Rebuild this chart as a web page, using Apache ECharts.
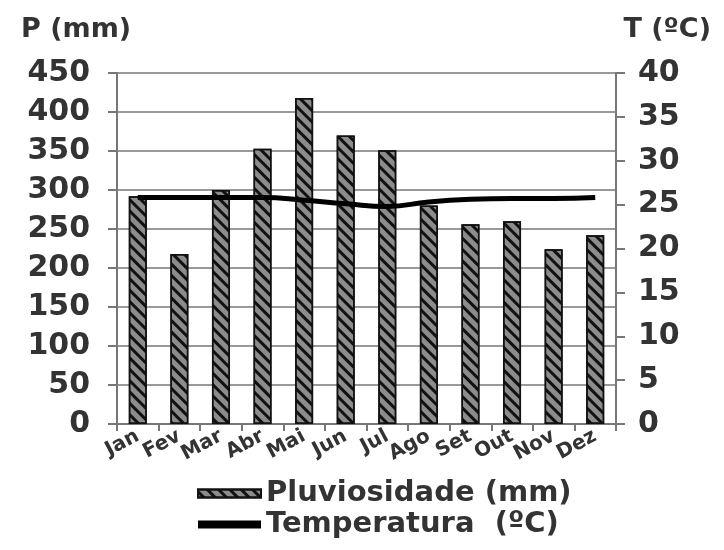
<!DOCTYPE html>
<html><head><meta charset="utf-8">
<script src="https://cdn.jsdelivr.net/npm/echarts@6/dist/echarts.min.js"></script>
<style>html,body{margin:0;padding:0;background:#fff}#c{width:724px;height:550px}</style>
</head><body><div id="c"></div>
<script>
const months = ['Jan','Fev','Mar','Abr','Mai','Jun','Jul','Ago','Set','Out','Nov','Dez'];
const rain = [292, 218, 300, 353, 418, 370, 351, 280, 256, 260, 224, 242];
const temp = [25.8, 25.8, 25.8, 25.8, 25.5, 25.1, 24.8, 25.3, 25.6, 25.7, 25.7, 25.8];
const rainTicks = {min: 0, max: 450, interval: 50};
const tempTicks = {min: 0, max: 40, interval: 5};
const font = '"DejaVu Sans", sans-serif';
const txt = '#333';
const decal = {symbol: 'rect', symbolSize: 1, dashArrayX: [[1, 0]], dashArrayY: [3, 5], rotation: Math.PI / 4, color: '#111'};

const chart = echarts.init(document.getElementById('c'));
chart.setOption({
  animation: false,
  backgroundColor: '#fff',
  textStyle: {fontFamily: font},
  grid: {left: 117, right: 108, top: 73, bottom: 126},
  title: [
    {text: 'P (mm)', left: 16, top: 11, textStyle: {fontFamily: font, fontSize: 27, fontWeight: 'bold', color: txt}},
    {text: 'T (ºC)', right: 8, top: 11, textStyle: {fontFamily: font, fontSize: 27, fontWeight: 'bold', color: txt}}
  ],
  legend: {
    orient: 'vertical', left: 192, top: 474, itemGap: 2, itemWidth: 63, itemHeight: 8,
    textStyle: {fontFamily: font, fontSize: 29, fontWeight: 'bold', color: txt},
    data: [
      {name: 'Pluviosidade (mm)', icon: 'rect'},
      {name: 'Temperatura  (ºC)', icon: 'rect', itemStyle: {color: '#000', borderWidth: 0, decal: 'none'}}
    ]
  },
  xAxis: {
    type: 'category', data: months,
    axisLine: {lineStyle: {color: '#777', width: 2}},
    axisTick: {show: true, lineStyle: {color: '#777', width: 2}, length: 7},
    axisLabel: {interval: 0, rotate: 28, fontSize: 20, fontWeight: 'bold', color: txt, margin: 11, fontFamily: font}
  },
  yAxis: [
    {type: 'value', ...rainTicks,
     axisLine: {show: true, lineStyle: {color: '#777', width: 2}},
     axisTick: {show: true, length: 9, lineStyle: {color: '#777', width: 2}},
     splitLine: {lineStyle: {color: '#999', width: 2}},
     axisLabel: {fontSize: 30, fontWeight: 'bold', color: txt, margin: 27, fontFamily: font}},
    {type: 'value', ...tempTicks, position: 'right',
     axisLine: {show: true, lineStyle: {color: '#777', width: 2}},
     axisTick: {show: true, length: 9, lineStyle: {color: '#777', width: 2}},
     splitLine: {show: false},
     axisLabel: {fontSize: 30, fontWeight: 'bold', color: txt, margin: 22, fontFamily: font}}
  ],
  series: [
    {name: 'Pluviosidade (mm)', type: 'bar', data: rain, barWidth: 18, yAxisIndex: 0,
     itemStyle: {color: '#8c8c8c', borderColor: '#111', borderWidth: 1.5, decal: decal}},
    {name: 'Temperatura  (ºC)', type: 'line', data: temp, yAxisIndex: 1, smooth: true,
     symbol: 'none', lineStyle: {color: '#000', width: 5}, itemStyle: {color: '#000'}}
  ]
});
</script></body></html>
